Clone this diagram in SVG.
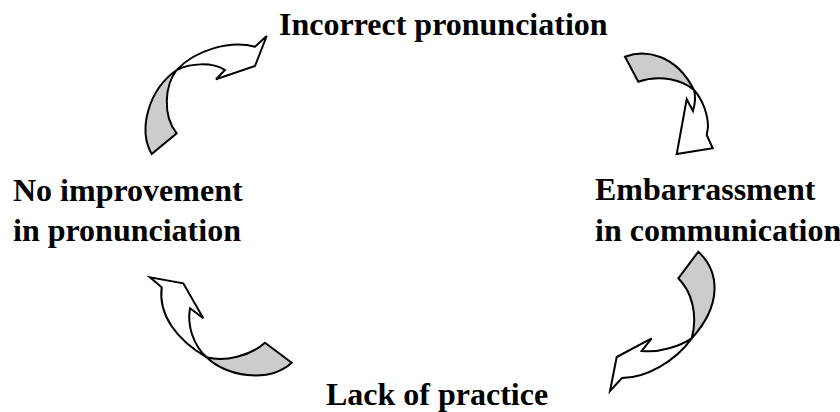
<svg xmlns="http://www.w3.org/2000/svg" width="840" height="412" viewBox="0 0 840 412">
<style>
.t{font-family:"Liberation Serif","Times New Roman",serif;font-weight:bold;font-size:32px;fill:#000}
.g{fill:#cccccc;stroke:#000;stroke-width:2;stroke-linejoin:miter}
.w{fill:#fff;stroke:#000;stroke-width:2;stroke-linejoin:miter}
</style>
<rect width="840" height="412" fill="#fff"/>
<g id="node-incorrect"><text class="t" x="279" y="35">Incorrect pronunciation</text></g>
<g id="node-embarrassment"><text class="t" x="595" y="200">Embarrassment</text><text class="t" x="595" y="241">in communication</text></g>
<g id="node-lack"><text class="t" x="326" y="405">Lack of practice</text></g>
<g id="node-noimprovement"><text class="t" x="13" y="201">No improvement</text><text class="t" x="13" y="241">in pronunciation</text></g>
<g id="connectors">
  <g id="arrow-top-left">
    <path class="g" d="M151.7,154 C138,130 148,90 176.7,70 C165,85 162,115 176.7,133.3 Z"/>
    <path class="w" d="M176.7,70 C195,50 230,40 255,46.7 L266.7,36 L255,66 L216,79.3 L225,70 C212,62 190,63 176.7,70 Z"/>
  </g>
  <g id="arrow-top-right">
    <path class="g" d="M625,56.7 C645,49 676,54 694,90 C683,80 660,74 638.3,81.7 Z"/>
    <path class="w" d="M694,90 C703,100 708,115 708,127 L706.7,135 L712.7,148.3 L676.7,154 L686.7,99.3 L693,111 C695,104 696,97 694,90 Z"/>
  </g>
  <g id="arrow-bottom-right">
    <path class="g" d="M698.3,251.7 C720,272 722,305 691.7,338.3 C698,315 692,292 678.3,278.3 Z"/>
    <path class="w" d="M691.7,338.3 C680,346 660,353 641.7,351 L651.7,338.3 L616.7,357 L610,391 L622,378 C645,378 675,362 691.7,338.3 Z"/>
  </g>
  <g id="arrow-bottom-left">
    <path class="g" d="M206.7,357.3 C225,376 268,384 291.7,362.7 L265,342.7 C250,356 225,362 206.7,357.3 Z"/>
    <path class="w" d="M206.7,357.3 C177,340 158,315 161.7,287.3 L150,277.3 L183.3,283.3 L203.3,318.3 L190,308.3 C187,325 193,345 206.7,357.3 Z"/>
  </g>
</g>
</svg>
